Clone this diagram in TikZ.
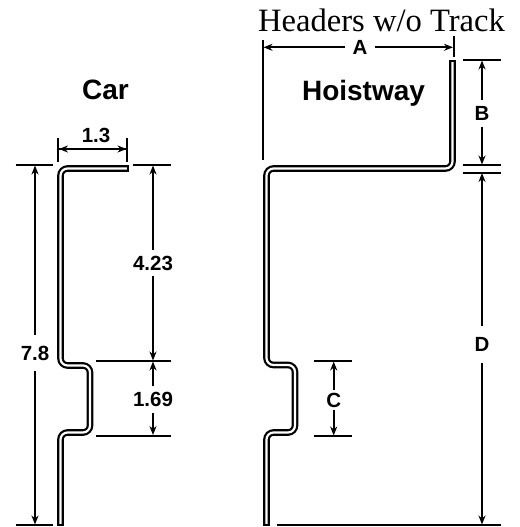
\documentclass[tikz,border=0pt]{standalone}
\usepackage{fontspec}
\setmainfont{Liberation Serif}
\setsansfont{Liberation Sans}
\usetikzlibrary{arrows.meta}
\tikzset{
  profile/.style={draw=black, line width=2.2pt, double=white, double distance=2.2pt, rounded corners=7pt},
  capline/.style={draw=black, line width=2.2pt},
  extline/.style={draw=black, line width=2pt},
  dimline/.style={draw=black, line width=1.8pt, -{Stealth[length=9pt, width=7pt]}},
  dimlabel/.style={font=\sffamily\bfseries\fontsize{20.5}{20.5}\selectfont, inner sep=0pt, minimum height=26pt},
  title/.style={font=\sffamily\bfseries\fontsize{28}{28}\selectfont, inner sep=0pt, anchor=base}
}
\begin{document}
\begin{tikzpicture}[x=1pt, y=-1pt]
\useasboundingbox (0,0) rectangle (519,527);
\node[font=\fontsize{32.6}{32.6}\selectfont, inner sep=0pt, anchor=base] (header) at (381.5,32) {Headers w/o Track};
\node[title] (car) at (105.5,99.5) {Car};
\node[title] (hoistway) at (363.5,100) {Hoistway};

% car profile
\coordinate (c1) at (128,168.5);
\coordinate (c2) at (60.5,525);
\draw[profile] (c1) -- (60.5,168.5) -- (60.5,365.5) -- (90,365.5) -- (90,432.5) -- (60.5,432.5) -- (c2);
\draw[capline] ([yshift=-3.3pt]c1) -- ([yshift=3.3pt]c1);
\draw[capline] ([xshift=-3.3pt]c2) -- ([xshift=3.3pt]c2);

% car extension lines
\draw[extline] (15.5,165) -- (53,165);
\draw[extline] (133,165) -- (171,165);
\draw[extline] (96,361) -- (171,361);
\draw[extline] (96,435.5) -- (171,435.5);
\draw[extline] (15.5,525) -- (53,525);
\draw[extline] (58.3,138) -- (58.3,162);
\draw[extline] (127,138) -- (127,162);

% car dimensions
\coordinate (w1) at (59,149);
\coordinate (w2) at (126.5,149);
\draw[dimline] (w1) -- (w2);
\draw[dimline] (w2) -- (w1);
\node[dimlabel, minimum height=0pt] (d13) at (96,135.5) {1.3};
\node[dimlabel, minimum height=36pt] (d78) at (35,353) {7.8};
\node[dimlabel] (d423) at (153,263) {4.23};
\node[dimlabel] (d169) at (153,399.5) {1.69};
\coordinate (t78) at (35,165.5);
\coordinate (b78) at (35,524.5);
\coordinate (t423) at (153,165.5);
\coordinate (b423) at (153,360.5);
\coordinate (t169) at (153,361.5);
\coordinate (b169) at (153,435);
\draw[dimline] (d78) -- (t78);
\draw[dimline] (d78) -- (b78);
\draw[dimline] (d423) -- (t423);
\draw[dimline] (d423) -- (b423);
\draw[dimline] (d169) -- (t169);
\draw[dimline] (d169) -- (b169);

% hoistway profile
\coordinate (h1) at (452.5,61);
\coordinate (h2) at (266.5,525);
\draw[profile] (h1) -- (452.5,168.5) -- (266.5,168.5) -- (266.5,365) -- (295,365) -- (295,432.5) -- (266.5,432.5) -- (h2);
\draw[capline] ([xshift=-3.3pt]h1) -- ([xshift=3.3pt]h1);
\draw[capline] ([xshift=-3.3pt]h2) -- ([xshift=3.3pt]h2);

% hoistway extension lines
\draw[extline] (262.7,40) -- (262.7,160);
\draw[extline] (454,36) -- (454,57);
\draw[extline] (463,60) -- (500.7,60);
\draw[extline] (463,165) -- (500.7,165);
\draw[extline] (463,172.7) -- (500.7,172.7);
\draw[extline] (314,361) -- (352,361);
\draw[extline] (314,436) -- (352,436);
\draw[extline] (276.7,525) -- (500.7,525);

% hoistway dimensions
\node[dimlabel, minimum height=0pt, minimum width=29pt] (da) at (360,47) {A};
\node[dimlabel] (db) at (482,113.5) {B};
\node[dimlabel, minimum height=19pt] (dc) at (333.7,400) {C};
\node[dimlabel, minimum height=37pt] (dd) at (482,344.5) {D};
\coordinate (la) at (263.5,47.3);
\coordinate (ra) at (453,47.3);
\coordinate (tb) at (482,60.5);
\coordinate (bb) at (482,164.5);
\coordinate (tc) at (333.7,361.5);
\coordinate (bc) at (333.7,435.5);
\coordinate (td) at (482,173);
\coordinate (bd) at (482,524.5);
\draw[dimline] (da.west |- la) -- (la);
\draw[dimline] (da.east |- ra) -- (ra);
\draw[dimline] (db) -- (tb);
\draw[dimline] (db) -- (bb);
\draw[dimline] (dc) -- (tc);
\draw[dimline] (dc) -- (bc);
\draw[dimline] (dd) -- (td);
\draw[dimline] (dd) -- (bd);
\end{tikzpicture}
\end{document}
